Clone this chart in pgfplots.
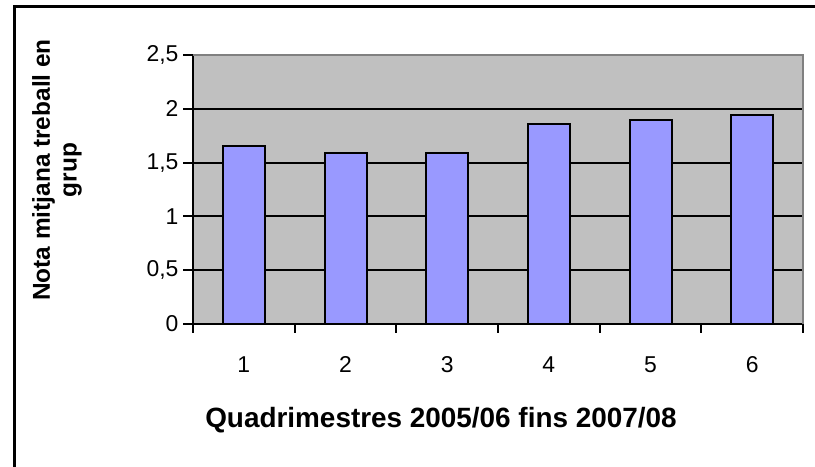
\documentclass[border=0pt]{standalone}
\usepackage{pgfplots}
\pgfplotsset{compat=1.18}
\usepackage{fontspec}
\setmainfont{Liberation Sans}
\definecolor{barblue}{HTML}{9999FF}
\definecolor{bggray}{HTML}{C0C0C0}
\definecolor{bordergray}{HTML}{808080}
\begin{document}
\begin{tikzpicture}[x=1bp,y=1bp]
\path[use as bounding box] (0,0) rectangle (815,467);
\fill[white] (0,0) rectangle (815,467);
\draw[line width=2.2bp] (14.5,0) -- (14.5,460.5) -- (815,460.5);
\begin{axis}[
  at={(193bp,143bp)}, anchor=south west,
  scale only axis, width=610bp, height=269bp,
  xmin=0.5, xmax=6.5, ymin=0, ymax=2.5,
  axis background/.style={fill=bggray},
  axis lines=left, axis line style={-, black, line width=2bp},
  xtick={1,2,3,4,5,6},
  xticklabels={1,2,3,4,5,6},
  major x tick style={draw=none},
  minor xtick={0.5,1.5,...,6.5},
  minor x tick style={black, line width=2bp},
  minor tick length=9bp,
  ytick={0,0.5,1,1.5,2,2.5},
  yticklabels={0,{0,5},1,{1,5},2,{2,5}},
  major tick length=10bp,
  tick align=outside,
  y tick style={black, line width=2bp},
  ymajorgrids, grid style={black, line width=2bp},
  tick label style={font=\fontsize{23}{26}\selectfont},
  xticklabel style={yshift=-19bp},
  yticklabel style={xshift=-1bp},
  /pgf/number format/assume math mode=true,
  clip=false,
]
\addplot[ybar, bar width=42bp, fill=barblue, draw=black, line width=2bp]
  coordinates {(1,1.65) (2,1.59) (3,1.59) (4,1.86) (5,1.90) (6,1.94)};
\draw[bordergray, line width=2bp] (rel axis cs:0,1) -- (rel axis cs:1,1) -- (rel axis cs:1,0);
\end{axis}
\node[rotate=90, align=center, font=\bfseries\fontsize{24.5}{27}\selectfont] at (57,297) {Nota mitjana treball en\\grup};
\node[font=\bfseries\fontsize{28}{32}\selectfont] at (441,47) {Quadrimestres 2005/06 fins 2007/08};
\end{tikzpicture}
\end{document}
